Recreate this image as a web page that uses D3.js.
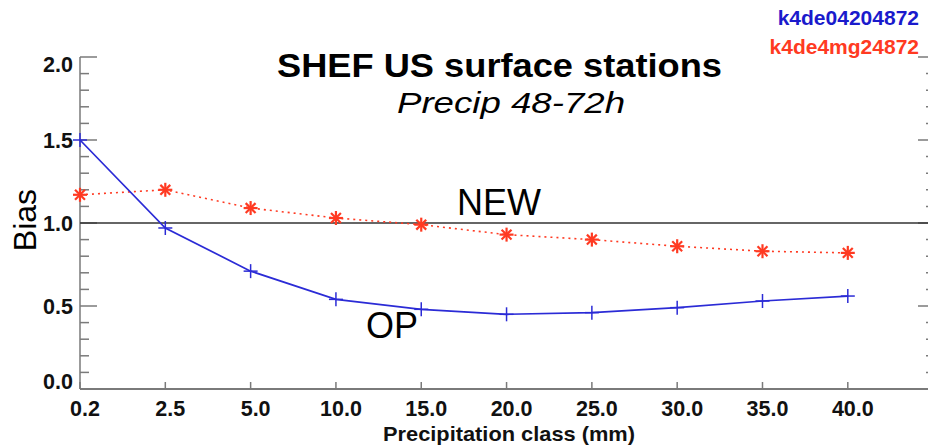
<!DOCTYPE html>
<html>
<head>
<meta charset="utf-8">
<script src="https://cdn.jsdelivr.net/npm/d3@7"></script>
<style>
  body { margin: 0; background: #fff; }
  svg { display: block; font-family: "Liberation Sans", Arial, Helvetica, sans-serif; }
</style>
</head>
<body>
<div id="chart"></div>
<script>
// categories on the x axis (equally spaced classes)
const classes = ["0.2", "2.5", "5.0", "10.0", "15.0", "20.0", "25.0", "30.0", "35.0", "40.0"];
// bias values
const opBias  = [1.50, 0.97, 0.71, 0.54, 0.48, 0.45, 0.46, 0.49, 0.53, 0.56];
const newBias = [1.17, 1.20, 1.09, 1.03, 0.99, 0.93, 0.90, 0.86, 0.83, 0.82];
const yTicks = [0.0, 0.5, 1.0, 1.5, 2.0];
const legendNames = ["k4de04204872", "k4de4mg24872"];

const width = 928, height = 448;
const blue = "#2b2bd6", red = "#ff3a22", axisGrey = "#7a7a7a";

const svg = d3.select("#chart").append("svg")
  .attr("width", width)
  .attr("height", height);

// scales: index of class -> x, bias -> y
const x = d3.scaleLinear().domain([0, 9.94]).range([80, 928]);
const y = d3.scaleLinear().domain([0, 2]).range([389, 57]);
const isMajor = d => Math.abs(d * 2 - Math.round(d * 2)) < 1e-6;

// left axis line + ticks
svg.append("line")
  .attr("x1", x(0)).attr("x2", x(0))
  .attr("y1", y(0)).attr("y2", y(2))
  .attr("stroke", axisGrey).attr("stroke-width", 1.5);

const minor = d3.range(0, 2.01, 0.1).map(v => +v.toFixed(1));
svg.selectAll(".ytick")
  .data(minor)
  .enter().append("line")
  .attr("x1", x(0))
  .attr("x2", d => x(0) + (isMajor(d) ? 17 : 9))
  .attr("y1", d => y(d)).attr("y2", d => y(d))
  .attr("stroke", axisGrey).attr("stroke-width", 1.5);
// right axis ticks (axis line itself sits just off the page)
svg.selectAll(".ytickR")
  .data(minor)
  .enter().append("line")
  .attr("x1", 929)
  .attr("x2", d => 929 - (isMajor(d) ? 11 : 3))
  .attr("y1", d => y(d)).attr("y2", d => y(d))
  .attr("stroke", axisGrey).attr("stroke-width", 1.5);

svg.selectAll(".ylab")
  .data(yTicks)
  .enter().append("text")
  .attr("x", 73)
  .attr("y", d => d === 0 ? y(d) : d === 2 ? y(d) + 15 : y(d) + 7.5)
  .attr("text-anchor", "end")
  .attr("font-size", 21.5).attr("font-weight", "bold")
  .attr("fill", "#111")
  .text(d => d.toFixed(1));

// bottom axis
svg.append("line")
  .attr("x1", x(0)).attr("x2", 928)
  .attr("y1", y(0)).attr("y2", y(0))
  .attr("stroke", axisGrey).attr("stroke-width", 2);
svg.selectAll(".xtick")
  .data(classes)
  .enter().append("line")
  .attr("x1", (d, i) => x(i)).attr("x2", (d, i) => x(i))
  .attr("y1", y(0)).attr("y2", y(0) - 7)
  .attr("stroke", axisGrey).attr("stroke-width", 1.5);
svg.selectAll(".xlab")
  .data(classes)
  .enter().append("text")
  .attr("x", (d, i) => x(i) + 5)
  .attr("y", 416)
  .attr("text-anchor", "middle")
  .attr("font-size", 21.5).attr("font-weight", "bold")
  .attr("fill", "#111")
  .text(d => d);

svg.append("text")
  .attr("x", 509).attr("y", 441)
  .attr("text-anchor", "middle")
  .attr("font-size", 21).attr("font-weight", "bold")
  .attr("textLength", 252).attr("lengthAdjust", "spacingAndGlyphs")
  .attr("fill", "#111")
  .text("Precipitation class (mm)");

svg.append("text")
  .attr("transform", `translate(36,220) rotate(-90)`)
  .attr("text-anchor", "middle")
  .attr("font-size", 32)
  .attr("fill", "#000")
  .text("Bias");

// reference line at bias = 1
svg.append("line")
  .attr("x1", x(0)).attr("x2", 928)
  .attr("y1", y(1)).attr("y2", y(1))
  .attr("stroke", "#333").attr("stroke-width", 1.5);

// series
const line = d3.line().x((d, i) => x(i)).y(d => y(d));

svg.append("path")
  .datum(newBias)
  .attr("d", line)
  .attr("fill", "none")
  .attr("stroke", red).attr("stroke-width", 1.6)
  .attr("stroke-dasharray", "2,4");

svg.append("path")
  .datum(opBias)
  .attr("d", line)
  .attr("fill", "none")
  .attr("stroke", blue).attr("stroke-width", 1.7);

// asterisk markers
const star = svg.selectAll(".star")
  .data(newBias)
  .enter().append("g")
  .attr("transform", (d, i) => `translate(${x(i)},${y(d)})`);
[0, 45, 90, 135].forEach(a => {
  star.append("line")
    .attr("x1", -7).attr("x2", 7).attr("y1", 0).attr("y2", 0)
    .attr("transform", `rotate(${a})`)
    .attr("stroke", red).attr("stroke-width", 2.2);
});

// plus markers
const plus = svg.selectAll(".plus")
  .data(opBias)
  .enter().append("g")
  .attr("transform", (d, i) => `translate(${x(i)},${y(d)})`);
[0, 90].forEach(a => {
  plus.append("line")
    .attr("x1", -7).attr("x2", 7).attr("y1", 0).attr("y2", 0)
    .attr("transform", `rotate(${a})`)
    .attr("stroke", blue).attr("stroke-width", 1.5);
});

// series labels
svg.append("text")
  .attr("x", 457).attr("y", 215)
  .attr("font-size", 36).attr("fill", "#000")
  .text("NEW");
svg.append("text")
  .attr("x", 366).attr("y", 338)
  .attr("font-size", 36).attr("fill", "#000")
  .text("OP");

// title
svg.append("text")
  .attr("x", 499.5).attr("y", 77)
  .attr("text-anchor", "middle")
  .attr("font-size", 34).attr("font-weight", "bold")
  .attr("textLength", 445).attr("lengthAdjust", "spacingAndGlyphs")
  .attr("fill", "#000")
  .text("SHEF US surface stations");
svg.append("text")
  .attr("x", 511).attr("y", 113)
  .attr("text-anchor", "middle")
  .attr("font-size", 29).attr("font-style", "italic")
  .attr("textLength", 228).attr("lengthAdjust", "spacingAndGlyphs")
  .attr("fill", "#000")
  .text("Precip 48-72h");

// legend (run names)
svg.selectAll(".legend")
  .data(legendNames)
  .enter().append("text")
  .attr("x", 919)
  .attr("y", (d, i) => 25 + i * 29)
  .attr("text-anchor", "end")
  .attr("font-size", 21).attr("font-weight", "bold")
  .attr("fill", (d, i) => i === 0 ? "#1a1acc" : red)
  .text(d => d);
</script>
</body>
</html>
